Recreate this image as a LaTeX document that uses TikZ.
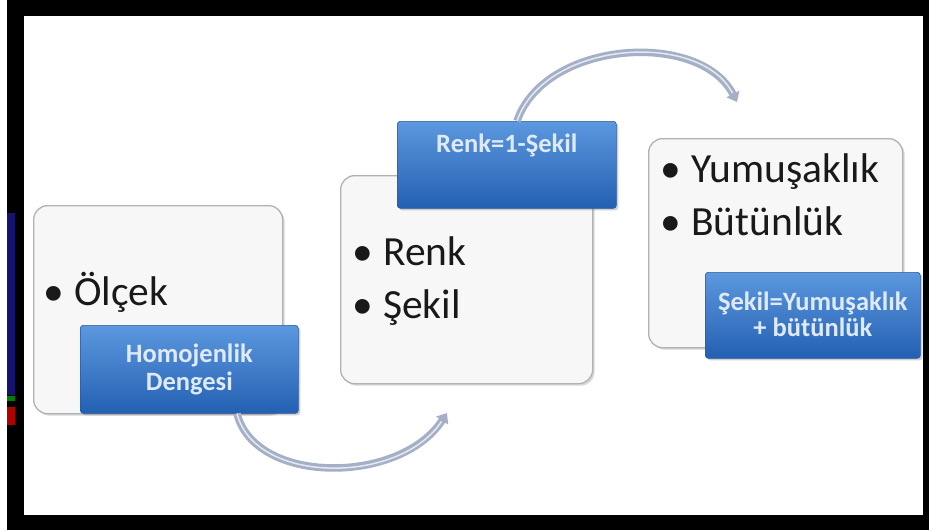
\documentclass[tikz,border=0pt]{standalone}
\usepackage{fontspec}
\setmainfont{Carlito}
\usetikzlibrary{arrows.meta,shadows,calc}
\definecolor{boxfill}{RGB}{247,247,247}
\definecolor{boxline}{RGB}{176,178,184}
\definecolor{labtop}{RGB}{92,152,222}
\definecolor{labbot}{RGB}{36,96,178}
\definecolor{labline}{RGB}{40,90,160}
\definecolor{labtext}{RGB}{222,234,248}
\definecolor{arcol}{RGB}{165,175,198}
\definecolor{arhi}{RGB}{228,232,242}
\definecolor{edgeblue}{RGB}{20,20,110}
\newcommand\mybul{\makebox[31pt][l]{•}}
\begin{document}
\begin{tikzpicture}[x=1pt,y=-1pt,
 panel/.style={draw=boxline, line width=1.3pt, fill=boxfill, rounded corners=14pt,
   anchor=north west, inner sep=0pt,
   drop shadow={shadow xshift=2pt, shadow yshift=-2pt, opacity=0.25, fill=black!60}},
 labelbox/.style={draw=labline, line width=0.6pt, top color=labtop, bottom color=labbot,
   rounded corners=3pt, anchor=north west, inner sep=0pt,
   drop shadow={shadow xshift=2pt, shadow yshift=-2pt, opacity=0.3, fill=black!60}},
 bigtext/.style={anchor=base west, inner sep=0pt, font=\fontsize{41.5}{48}\selectfont, text=black!90},
 labtxt/.style={anchor=base, inner sep=0pt, font=\fontsize{26.5}{30}\selectfont\bfseries, text=labtext},
 flow/.style={line width=7.5pt, draw=arcol, -{Triangle[width=14pt,length=9pt]}},
 flowhi/.style={line width=1.5pt, draw=arhi}
]
\useasboundingbox (0,0) rectangle (929,530);
% frame
\fill[white] (0,0) rectangle (929,530);
\fill[black] (7,0) rectangle (929,530);
\fill[white] (24,16) rectangle (923,515);
\fill[edgeblue] (7,213) rectangle (15,395);
\fill[green!50!black] (7,396) rectangle (15,401);
\fill[red!70!black] (7,407) rectangle (15,425);

% panels
\node[panel, minimum width=249pt, minimum height=208pt] (p1) at (33,205) {};
\node[panel, minimum width=252pt, minimum height=208pt] (p2) at (340,175) {};
\node[panel, minimum width=254pt, minimum height=209pt] (p3) at (648,138) {};

% labels
\node[labelbox, minimum width=218pt, minimum height=88pt] (lab1) at (80,325) {};
\node[labelbox, minimum width=219pt, minimum height=87pt] (lab2) at (397,121) {};
\node[labelbox, minimum width=215pt, minimum height=86pt] (lab3) at (705,272) {};

% arcs
\coordinate (a1e) at (447,413);
\coordinate (a2e) at (737,102);
\draw[flow] ($(lab1.south west)+(157,0)$) .. controls (255,485) and (400,485) .. (a1e);
\draw[flowhi, shorten >=10pt] ($(lab1.south west)+(157,0)$) .. controls (255,485) and (400,485) .. (a1e);
\draw[flow] ($(lab2.north west)+(120,0)$) .. controls (545,40) and (700,30) .. (a2e);
\draw[flowhi, shorten >=10pt] ($(lab2.north west)+(120,0)$) .. controls (545,40) and (700,30) .. (a2e);

% panel texts
\node[bigtext] (t1) at (43,305) {\mybul Ölçek};
\node[bigtext] (t2a) at (352,265) {\mybul Renk};
\node[bigtext] (t2b) at (352,318) {\mybul Şekil};
\node[bigtext] (t3a) at (660,182) {\mybul Yumuşaklık};
\node[bigtext] (t3b) at (660,235) {\mybul Bütünlük};

% label texts
\node[labtxt] (l1a) at ($(lab1.north)+(0,37)$) {Homojenlik};
\node[labtxt] (l1b) at ($(lab1.north)+(0,65)$) {Dengesi};
\node[labtxt] (l2) at ($(lab2.north)+(0,31)$) {Renk=1-Şekil};
\node[labtxt] (l3a) at ($(lab3.north)+(0,38)$) {Şekil=Yumuşaklık};
\node[labtxt] (l3b) at ($(lab3.north)+(0,64)$) {+ bütünlük};
\end{tikzpicture}
\end{document}
